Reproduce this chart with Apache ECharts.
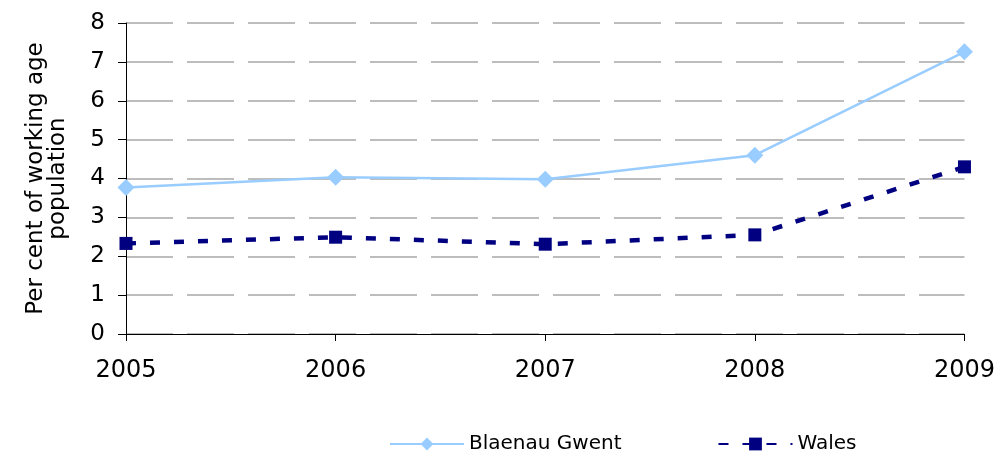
<!DOCTYPE html>
<html>
<head>
<meta charset="utf-8">
<script src="https://cdn.jsdelivr.net/npm/echarts@6/dist/echarts.min.js"></script>
<style>html,body{margin:0;padding:0;background:#fff}#c{width:998px;height:457px}</style>
</head>
<body>
<div id="c"></div>
<script>
const years = ['2005', '2006', '2007', '2008', '2009'];
const blaenauGwent = [3.77, 4.03, 3.98, 4.60, 7.26];
const wales = [2.33, 2.49, 2.31, 2.55, 4.30];
const seriesNames = ['Blaenau Gwent', 'Wales'];
const yAxisTitle = 'Per cent of working age\npopulation';

const FONT = 'DejaVu Sans';
const chart = echarts.init(document.getElementById('c'), null, {renderer: 'canvas'});
chart.setOption({
  animation: false,
  backgroundColor: '#fff',
  grid: {left: 126, right: 33, top: 23, bottom: 123, containLabel: false},
  legend: {
    top: 429,
    left: 384,
    itemGap: 96,
    itemWidth: 74,
    itemHeight: 16,
    textStyle: {fontFamily: FONT, fontSize: 20, color: '#000'},
    data: seriesNames
  },
  xAxis: {
    type: 'category',
    data: years,
    boundaryGap: false,
    axisLine: {lineStyle: {color: '#000', width: 1}},
    axisTick: {show: true, length: 7, lineStyle: {color: '#000'}},
    axisLabel: {fontFamily: FONT, fontSize: 24, color: '#000', margin: 25},
    splitLine: {show: false}
  },
  yAxis: {
    type: 'value',
    min: 0,
    max: 8,
    interval: 1,
    name: yAxisTitle,
    nameLocation: 'middle',
    nameRotate: 90,
    nameGap: 57,
    nameTextStyle: {fontFamily: FONT, fontSize: 23, color: '#000', lineHeight: 22},
    axisLine: {show: true, lineStyle: {color: '#000', width: 1}},
    axisTick: {show: true, length: 8, lineStyle: {color: '#000'}},
    axisLabel: {fontFamily: FONT, fontSize: 23, color: '#000', margin: 21},
    splitLine: {show: true, lineStyle: {color: '#a8a8a8', width: 1.5, type: [47, 14]}}
  },
  series: [
    {
      name: seriesNames[0],
      type: 'line',
      data: blaenauGwent,
      symbol: 'diamond',
      symbolSize: 17,
      showAllSymbol: true,
      itemStyle: {color: '#99ccff'},
      lineStyle: {color: '#99ccff', width: 2.5}
    },
    {
      name: seriesNames[1],
      type: 'line',
      data: wales,
      symbol: 'rect',
      symbolSize: 13,
      showAllSymbol: true,
      itemStyle: {color: '#000080'},
      lineStyle: {color: '#000080', width: 4.5, type: [10, 14]}
    }
  ]
});
</script>
</body>
</html>
